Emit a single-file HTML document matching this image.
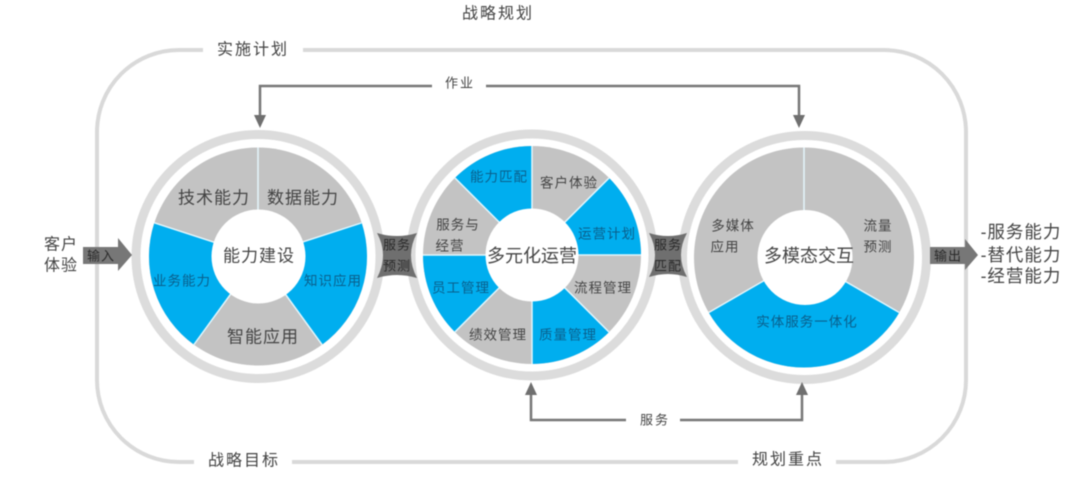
<!DOCTYPE html>
<html lang="zh">
<head>
<meta charset="utf-8">
<title>战略规划</title>
<style>
html,body{margin:0;padding:0;background:#fff;width:1080px;height:478px;overflow:hidden}
svg{display:block;filter:blur(.4px)}
text{font-family:"Liberation Sans","Noto Sans CJK SC",sans-serif;fill:#444;text-anchor:middle;dominant-baseline:central}
.d{fill:#2a2a2a}
.b{fill:#0a5f8c}
</style>
</head>
<body>
<svg width="1080" height="478" viewBox="0 0 1080 478" xmlns="http://www.w3.org/2000/svg">
<!-- frame -->
<rect x="97" y="50" width="869" height="412" rx="82" ry="82" fill="none" stroke="#d9d9d9" stroke-width="4"/>
<rect x="203" y="40" width="100" height="20" fill="#fff"/>
<rect x="194" y="452" width="98" height="20" fill="#fff"/>
<rect x="738" y="452" width="98" height="20" fill="#fff"/>

<!-- circle 1 -->
<circle cx="258" cy="256.500" r="122" fill="none" stroke="#dcdcdc" stroke-width="9"/>
<circle cx="258" cy="256.500" r="109" fill="#c3c3c3"/>
<g fill="none" stroke="#00aeef" stroke-width="78">
<circle cx="258" cy="256.500" r="70" pathLength="360" stroke-dasharray="72 288" transform="rotate(-18 258 256.500)"/>
<circle cx="258" cy="256.500" r="70" pathLength="360" stroke-dasharray="72 288" transform="rotate(126 258 256.500)"/>
</g>
<g stroke="#e4f6fc" stroke-width="1.500">
<line x1="258" y1="256.500" x2="258" y2="147.500"/>
<line x1="258" y1="256.500" x2="258" y2="147.500" transform="rotate(72 258 256.500)"/>
<line x1="258" y1="256.500" x2="258" y2="147.500" transform="rotate(144 258 256.500)"/>
<line x1="258" y1="256.500" x2="258" y2="147.500" transform="rotate(216 258 256.500)"/>
<line x1="258" y1="256.500" x2="258" y2="147.500" transform="rotate(288 258 256.500)"/>
</g>
<circle cx="258.500" cy="256.500" r="47" fill="#fff"/>

<!-- circle 2 -->
<circle cx="532" cy="255" r="121" fill="none" stroke="#dcdcdc" stroke-width="9"/>
<circle cx="532" cy="255" r="109" fill="#c3c3c3"/>
<g fill="none" stroke="#00aeef" stroke-width="78">
<circle cx="532" cy="255" r="70" pathLength="360" stroke-dasharray="45 315" transform="rotate(-45 532 255)"/>
<circle cx="532" cy="255" r="70" pathLength="360" stroke-dasharray="45 315" transform="rotate(45 532 255)"/>
<circle cx="532" cy="255" r="70" pathLength="360" stroke-dasharray="45 315" transform="rotate(135 532 255)"/>
<circle cx="532" cy="255" r="70" pathLength="360" stroke-dasharray="45 315" transform="rotate(225 532 255)"/>
</g>
<g stroke="#e4f6fc" stroke-width="1.500">
<line x1="532" y1="146" x2="532" y2="364"/>
<line x1="532" y1="146" x2="532" y2="364" transform="rotate(45 532 255)"/>
<line x1="532" y1="146" x2="532" y2="364" transform="rotate(90 532 255)"/>
<line x1="532" y1="146" x2="532" y2="364" transform="rotate(135 532 255)"/>
</g>
<circle cx="532" cy="255" r="46.500" fill="#fff"/>

<!-- circle 3 -->
<circle cx="804.500" cy="257.500" r="122" fill="none" stroke="#dcdcdc" stroke-width="9"/>
<circle cx="804" cy="257.500" r="110" fill="#c3c3c3"/>
<circle cx="804" cy="257.500" r="70" fill="none" stroke="#00aeef" stroke-width="80" pathLength="360" stroke-dasharray="120 240" transform="rotate(30 804 257.500)"/>
<g stroke="#e4f6fc" stroke-width="1.500">
<line x1="804" y1="257.500" x2="804" y2="147.500"/>
<line x1="804" y1="257.500" x2="804" y2="147.500" transform="rotate(120 804 257.500)"/>
<line x1="804" y1="257.500" x2="804" y2="147.500" transform="rotate(240 804 257.500)"/>
</g>
<circle cx="805" cy="257.500" r="47.500" fill="#fff"/>

<!-- connector shapes -->
<path d="M377,233 Q397,239 417,233 Q405,255 417,278 Q397,272 377,278 Q389,255 377,233Z" fill="#6f6f6f"/>
<path d="M649,233 Q668,239 687,233 Q675,255 687,277 Q668,271 649,277 Q661,255 649,233Z" fill="#6f6f6f"/>

<!-- connectors -->
<g fill="none" stroke="#777" stroke-width="2.500">
<path d="M260,118 V86 H432"/>
<path d="M486,86 H799 V118"/>
<path d="M531,392 V420 H626"/>
<path d="M680,420 H802 V392"/>
</g>
<g fill="#6f6f6f">
<path d="M254,115 H266 L260,128Z"/>
<path d="M793,115 H805 L799,128Z"/>
<path d="M525,395 H537 L531,382Z"/>
<path d="M796,395 H808 L802,382Z"/>
<path d="M83,247 H118 V238 L132,255 L118,271 V264 H83Z" fill="#777"/>
<path d="M930,247 H965 V239 L978,255 L965,270 V264 H930Z" fill="#777"/>
</g>

<!-- labels -->
<g font-size="16">
<text x="498" y="14" letter-spacing="2">战略规划</text>
<text x="253" y="50" letter-spacing="2">实施计划</text>
<text x="244" y="461" letter-spacing="2">战略目标</text>
<text x="788" y="460" letter-spacing="2">规划重点</text>
<text x="61" y="245" letter-spacing="1">客户</text>
<text x="61" y="266" letter-spacing="1">体验</text>
</g>
<g font-size="13">
<text x="460" y="83" letter-spacing="2">作业</text>
<text x="655" y="420" letter-spacing="2">服务</text>
<text class="d" x="101" y="256" letter-spacing="1">输入</text>
<text class="d" x="948" y="256" letter-spacing="1">输出</text>
<text class="d" x="397" y="245" letter-spacing="1">服务</text>
<text class="d" x="397" y="266" letter-spacing="1">预测</text>
<text class="d" x="668" y="245" letter-spacing="1">服务</text>
<text class="d" x="668" y="266" letter-spacing="1">匹配</text>
</g>
<g font-size="17.500">
<text x="1021" y="232" letter-spacing="1">-服务能力</text>
<text x="1021" y="255" letter-spacing="1">-替代能力</text>
<text x="1021" y="276" letter-spacing="1">-经营能力</text>
</g>

<!-- circle text -->
<g font-size="17" letter-spacing="1">
<text x="214" y="198">技术能力</text>
<text x="303" y="198">数据能力</text>
<text x="263" y="337">智能应用</text>
<text x="259" y="256">能力建设</text>
<text x="532" y="256" letter-spacing="0" font-size="18">多元化运营</text>
<text x="809" y="256" letter-spacing="0" font-size="18">多模态交互</text>
</g>
<g font-size="13.500" letter-spacing="1">
<text class="b" x="182" y="281">业务能力</text>
<text class="b" x="333" y="281">知识应用</text>
<text x="569" y="183">客户体验</text>
<text class="b" x="607" y="234">运营计划</text>
<text x="603" y="288">流程管理</text>
<text class="b" x="568" y="335">质量管理</text>
<text x="498" y="335">绩效管理</text>
<text class="b" x="461" y="288">员工管理</text>
<text class="b" x="499" y="177">能力匹配</text>
<text x="458" y="225">服务与</text>
<text x="450" y="246">经营</text>
<text x="733" y="226">多媒体</text>
<text x="725" y="247">应用</text>
<text x="878" y="226">流量</text>
<text x="878" y="247">预测</text>
<text class="b" x="807" y="322">实体服务一体化</text>
</g>
</svg>
</body>
</html>
